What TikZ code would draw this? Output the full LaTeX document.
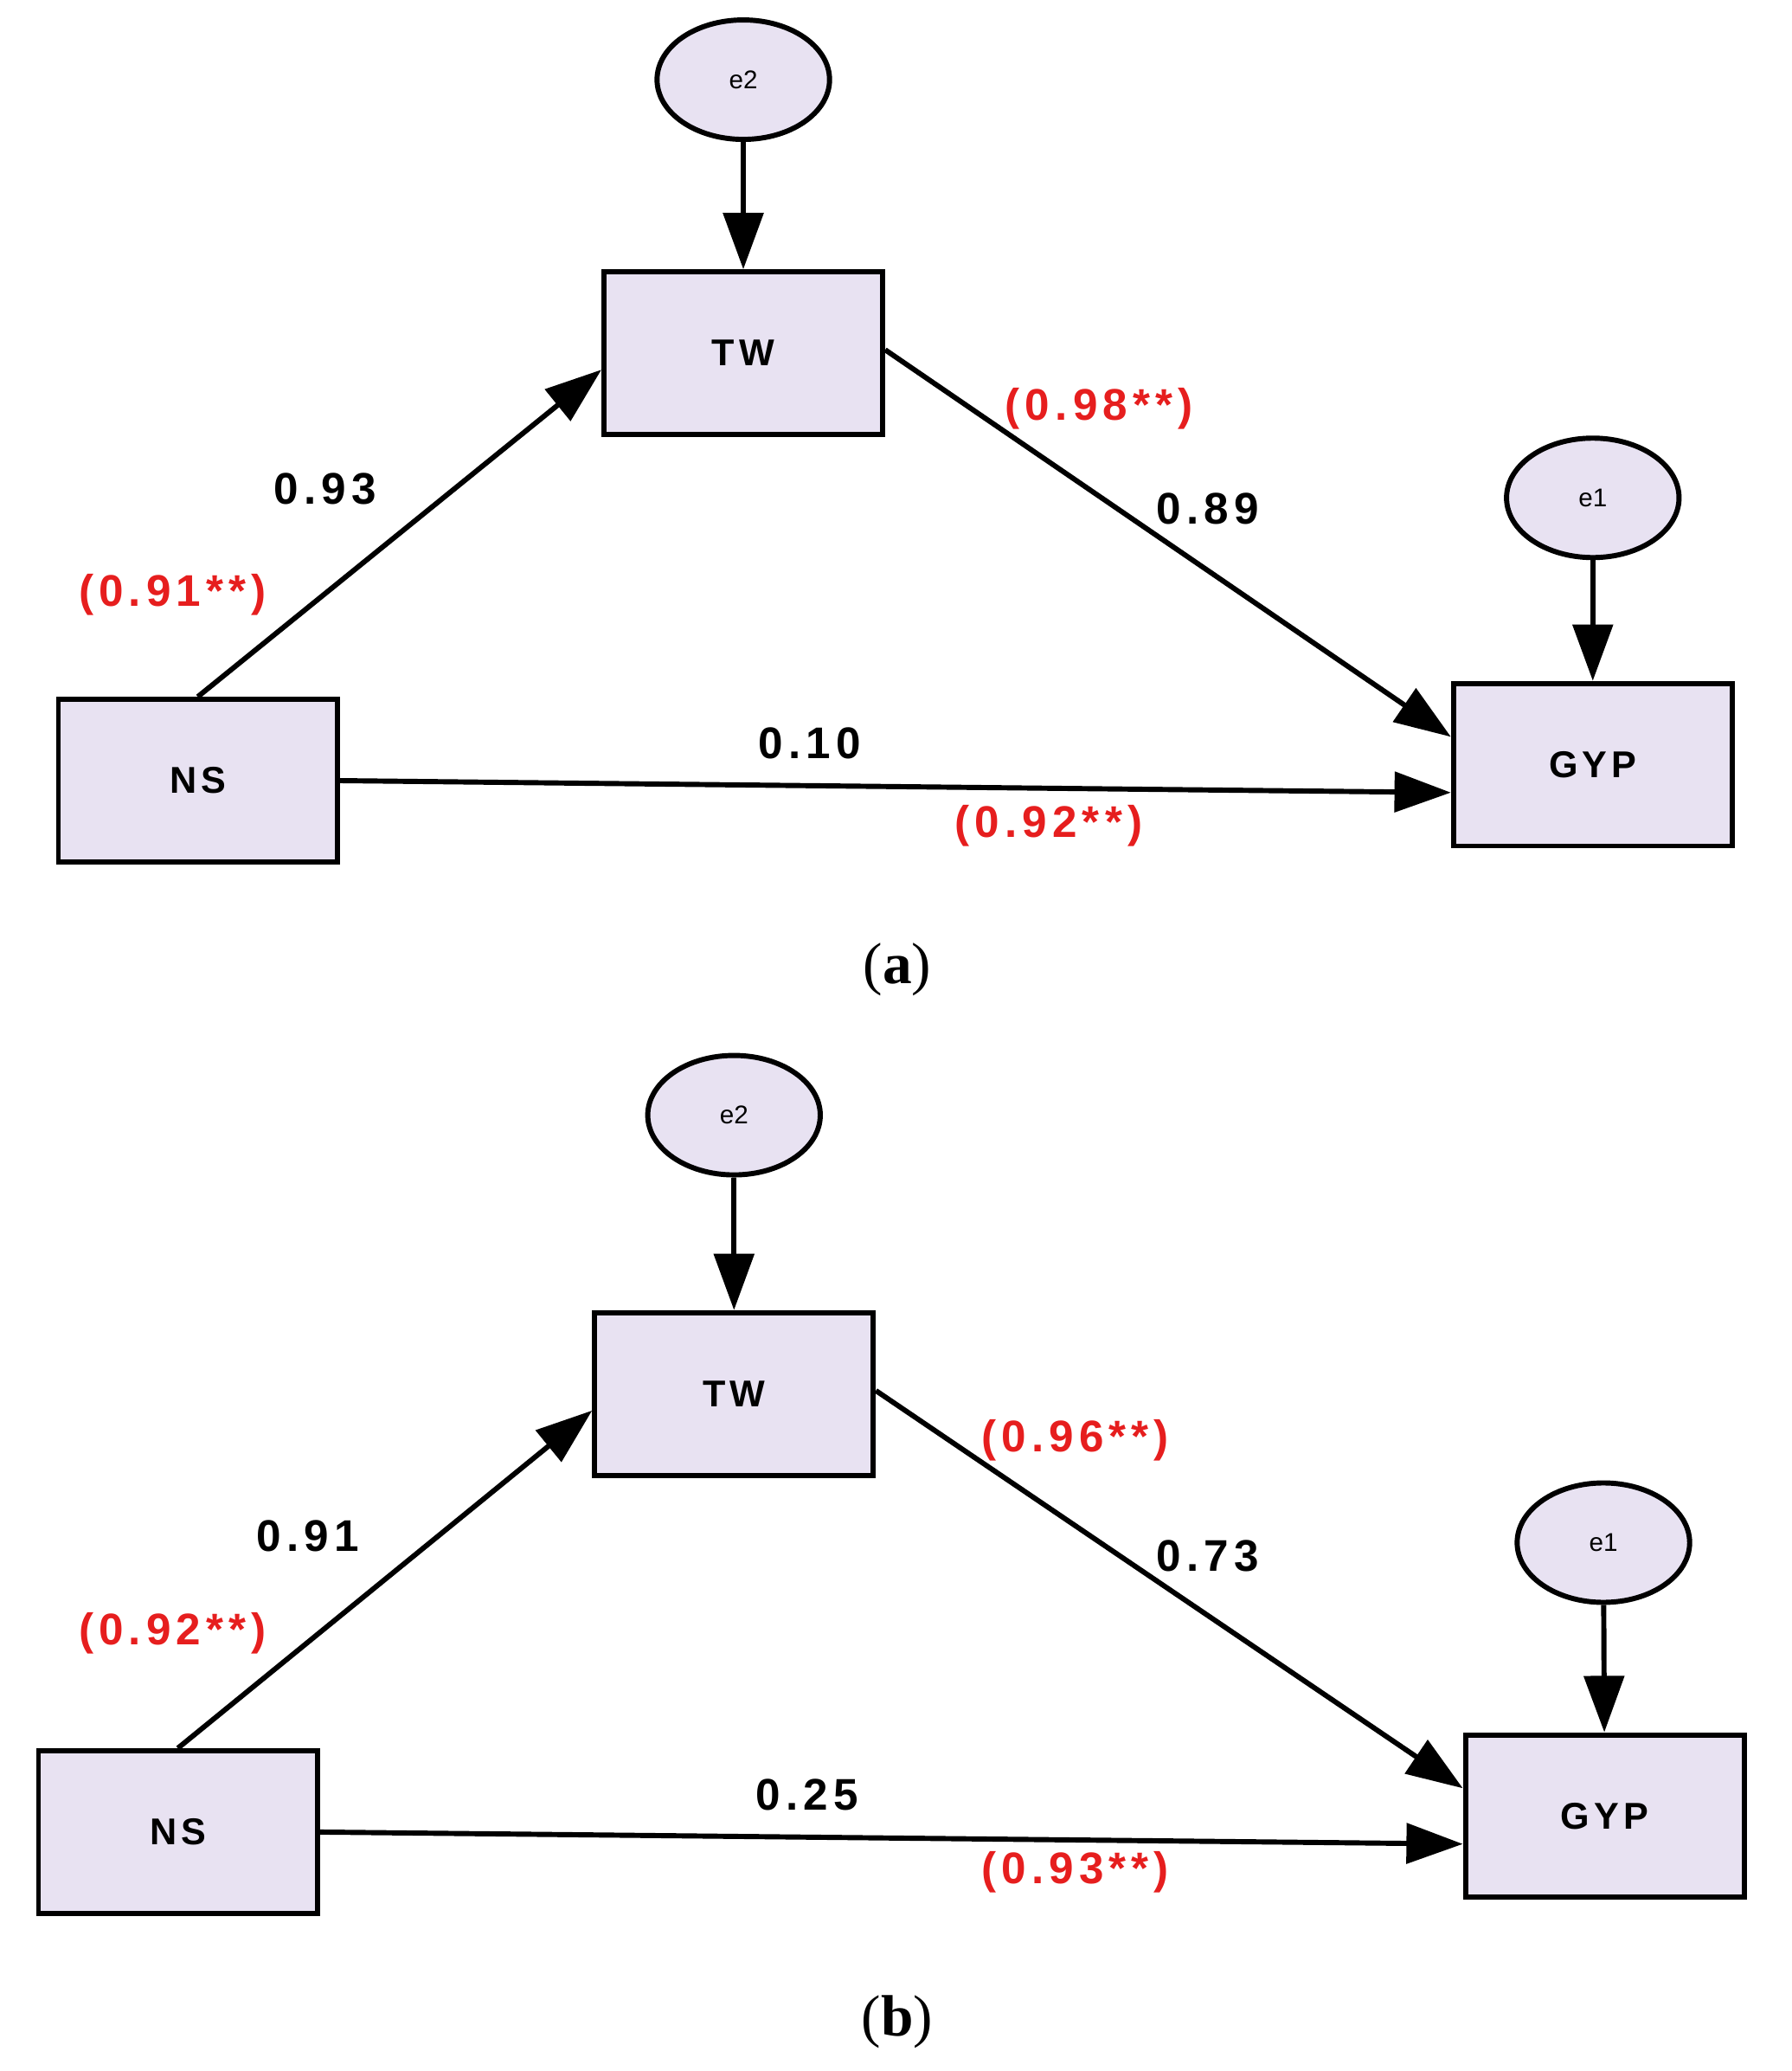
\documentclass[tikz,border=0pt]{standalone}
\usepackage{fontspec}
\setmainfont{Liberation Serif}
\newfontfamily\lab{Liberation Sans}[LetterSpace=12]
\newfontfamily\labn{Liberation Sans}
\usetikzlibrary{arrows.meta,shapes.geometric}
\definecolor{boxfill}{RGB}{232,226,242}
\definecolor{lred}{RGB}{230,30,30}
\tikzset{
 box/.style={draw,line width=2.2pt,fill=boxfill,minimum width=4.2cm,minimum height=2.45cm,font=\lab\bfseries\fontsize{16}{16}\selectfont},
 err/.style={draw,line width=2.2pt,ellipse,fill=boxfill,minimum width=2.6cm,minimum height=1.8cm,font=\labn\fontsize{11}{11}\selectfont},
 arr/.style={line width=2.2pt,-{Triangle[length=0.85cm,width=0.6cm]}},
 lb/.style={font=\lab\bfseries\fontsize{19}{19}\selectfont},
 rl/.style={lb,text=lred},
 capt/.style={font=\fontsize{25}{25}\selectfont}
}
\begin{document}
\begin{tikzpicture}[x=0.02cm,y=-0.02cm]
\useasboundingbox (0,0) rectangle (1350,1560);
% panel a
\node[err] (ae2) at (560,60) {e2};
\node[box] (atw) at (560,266) {TW};
\node[box] (ans) at (149,588) {NS};
\node[box] (agyp) at (1200,576) {GYP};
\node[err] (ae1) at (1200,375) {e1};
\draw[arr] (ae2) -- (atw);
\draw[arr] (ae1) -- (agyp);
\draw[arr] (ans.north) -- ([yshift=-0.25cm]atw.west);
\draw[arr] ([yshift=0.05cm]atw.east) -- ([yshift=0.42cm]agyp.west);
\draw[arr] (ans.east) -- ([yshift=-0.42cm]agyp.west);
\node[lb] (la1) at (245,368) {0.93};
\node[rl] (la2) at (130,448) {(0.91**)};
\node[rl] (la3) at (828,308) {(0.98**)};
\node[lb] (la4) at (910,383) {0.89};
\node[lb] (la5) at (610,560) {0.10};
\node[rl] (la6) at (790,622) {(0.92**)};
\node[capt] (capa) at (676,730) {(\textbf{a})};
% panel b
\node[err] (be2) at (553,840) {e2};
\node[box] (btw) at (553,1050) {TW};
\node[box] (bns) at (134,1380) {NS};
\node[box] (bgyp) at (1209,1368) {GYP};
\node[err] (be1) at (1208,1162) {e1};
\draw[arr] (be2) -- (btw);
\draw[arr] (be1) -- (bgyp);
\draw[arr] (bns.north) -- ([yshift=-0.25cm]btw.west);
\draw[arr] ([yshift=0.05cm]btw.east) -- ([yshift=0.42cm]bgyp.west);
\draw[arr] (bns.east) -- ([yshift=-0.42cm]bgyp.west);
\node[lb] (lb1) at (232,1157) {0.91};
\node[rl] (lb2) at (130,1230) {(0.92**)};
\node[rl] (lb3) at (810,1085) {(0.96**)};
\node[lb] (lb4) at (910,1172) {0.73};
\node[lb] (lb5) at (608,1352) {0.25};
\node[rl] (lb6) at (810,1410) {(0.93**)};
\node[capt] (capb) at (676,1523) {(\textbf{b})};
\end{tikzpicture}
\end{document}
